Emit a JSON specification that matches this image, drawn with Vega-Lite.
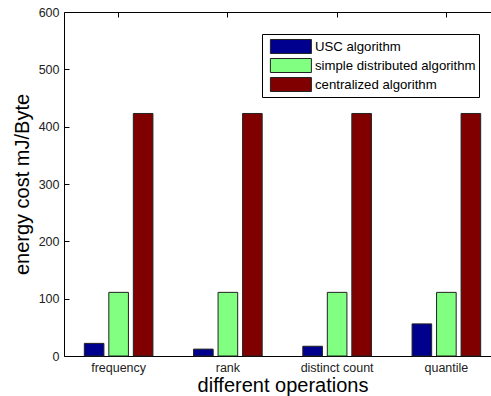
{
  "$schema": "https://vega.github.io/schema/vega-lite/v6.json",
  "width": 427,
  "height": 344,
  "autosize": {"type": "none"},
  "padding": {"left": 64, "top": 12, "right": 0, "bottom": 40},
  "background": "white",
  "config": {
    "view": {"stroke": null},
    "font": "Liberation Sans",
    "axis": {
      "domainColor": "black",
      "domainWidth": 1,
      "tickColor": "black",
      "labelColor": "#222",
      "labelFont": "Liberation Sans",
      "labelFontSize": 12.5,
      "titleFont": "Liberation Sans",
      "titleFontWeight": "normal",
      "titleColor": "black",
      "titleFontSize": 20,
      "grid": false
    }
  },
  "data": {
    "values": [
      {"op": "frequency", "algo": "USC algorithm", "value": 22},
      {"op": "frequency", "algo": "simple distributed algorithm", "value": 111},
      {"op": "frequency", "algo": "centralized algorithm", "value": 423},
      {"op": "rank", "algo": "USC algorithm", "value": 12},
      {"op": "rank", "algo": "simple distributed algorithm", "value": 111},
      {"op": "rank", "algo": "centralized algorithm", "value": 423},
      {"op": "distinct count", "algo": "USC algorithm", "value": 17},
      {"op": "distinct count", "algo": "simple distributed algorithm", "value": 111},
      {"op": "distinct count", "algo": "centralized algorithm", "value": 423},
      {"op": "quantile", "algo": "USC algorithm", "value": 56},
      {"op": "quantile", "algo": "simple distributed algorithm", "value": 111},
      {"op": "quantile", "algo": "centralized algorithm", "value": 423}
    ]
  },
  "layer": [
    {
      "mark": {"type": "bar", "stroke": "#222", "strokeWidth": 1},
      "encoding": {
        "x": {
          "field": "op",
          "type": "nominal",
          "sort": ["frequency", "rank", "distinct count", "quantile"],
          "scale": {"range": [0, 437], "paddingInner": 0.327, "paddingOuter": 0.1635},
          "axis": {
            "orient": "bottom",
            "title": "different operations",
            "labelAngle": 0,
            "ticks": false,
            "labelPadding": 5,
            "titlePadding": 2
          }
        },
        "xOffset": {
          "field": "algo",
          "type": "nominal",
          "sort": ["USC algorithm", "simple distributed algorithm", "centralized algorithm"],
          "scale": {"paddingInner": 0.2, "paddingOuter": 0.1}
        },
        "y": {
          "field": "value",
          "type": "quantitative",
          "scale": {"domain": [0, 600], "nice": false},
          "axis": {
            "title": "energy cost mJ/Byte",
            "values": [0, 100, 200, 300, 400, 500, 600],
            "tickSize": -5,
            "labelPadding": 10,
            "titlePadding": 6
          }
        },
        "color": {
          "field": "algo",
          "type": "nominal",
          "sort": ["USC algorithm", "simple distributed algorithm", "centralized algorithm"],
          "scale": {
            "domain": ["USC algorithm", "simple distributed algorithm", "centralized algorithm"],
            "range": ["#00008F", "#80FF80", "#800000"]
          },
          "legend": {
            "title": null,
            "orient": "none",
            "legendX": 198,
            "legendY": 22,
            "fillColor": "white",
            "strokeColor": "black",
            "padding": 3,
            "cornerRadius": 0,
            "rowPadding": 0,
            "symbolType": "M-0.456,-0.778H4.1V0.778H-0.456Z",
            "symbolSize": 324,
            "symbolStrokeColor": "#222",
            "symbolStrokeWidth": 1,
            "symbolOpacity": 1,
            "labelFont": "Liberation Sans",
            "labelFontSize": 13.2,
            "labelColor": "black",
            "labelOffset": 31,
            "labelLimit": 300
          }
        }
      }
    },
    {
      "mark": {"type": "bar", "opacity": 0},
      "encoding": {
        "x": {
          "field": "op",
          "type": "nominal",
          "sort": ["frequency", "rank", "distinct count", "quantile"],
          "axis": {
            "orient": "top",
            "title": null,
            "labels": false,
            "tickSize": -5
          }
        },
        "y": {"field": "value", "type": "quantitative"}
      }
    }
  ]
}
